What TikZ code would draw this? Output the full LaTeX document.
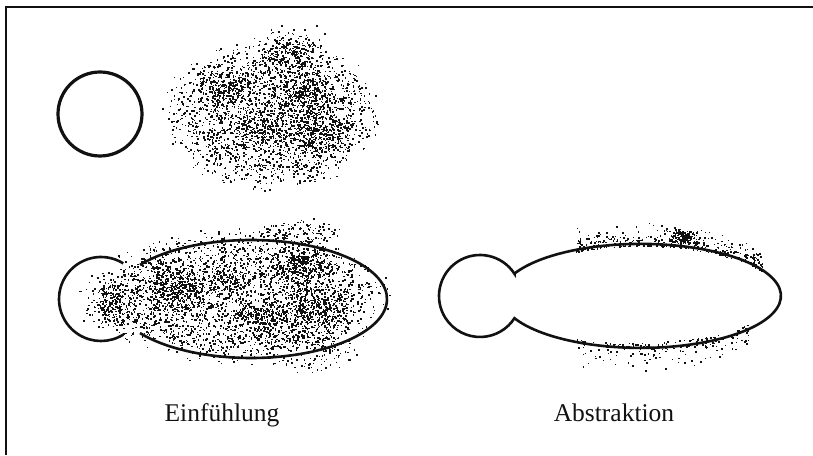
\documentclass[tikz,border=0pt]{standalone}
\usepackage{fontspec}
\setmainfont{Liberation Serif}
\definecolor{inkblack}{HTML}{111111}
\tikzset{
  outline/.style={draw=inkblack, line width=2.6pt},
  frameline/.style={draw=inkblack, line width=2pt},
  speck/.style={fill=inkblack},
  caption/.style={font=\fontsize{25.5}{30}\selectfont, text=inkblack, anchor=base, inner sep=0pt},
}
% soft-edged uniform cloud of dots: cx, cy, rx, ry, count
\newcommand\speckle[5]{%
  \foreach \i in {1,...,#5}{
    \pgfmathsetmacro\sr{sqrt(rnd)*(0.8+0.32*rnd)}
    \pgfmathsetmacro\st{360*rnd}
    \pgfmathsetmacro\sd{1+rnd}
    \fill[speck] ({#1+#3*\sr*cos(\st)},{#2+#4*\sr*sin(\st)}) rectangle ++(\sd,\sd);
  }}
% dense clump of dots, centre-heavy: cx, cy, rx, ry, count
\newcommand\clump[5]{%
  \foreach \i in {1,...,#5}{
    \pgfmathsetmacro\sx{#1+#3*(rand+rand+rand)/2}
    \pgfmathsetmacro\sy{#2+#4*(rand+rand+rand)/2}
    \pgfmathsetmacro\sd{1+rnd}
    \fill[speck] (\sx,\sy) rectangle ++(\sd,\sd);
  }}
% dots hugging an ellipse rim: cx, cy, a, b, from angle, to angle, spread, count
\newcommand\rim[8]{%
  \foreach \i in {1,...,#8}{
    \pgfmathsetmacro\st{#5+(#6-#5)*rnd}
    \pgfmathsetmacro\sd{1+rnd}
    \pgfmathsetmacro\so{#7*(rnd*rnd-0.12)}
    \fill[speck] ({#1+#3*cos(\st)},{#2+#4*sin(\st)+\so}) rectangle ++(\sd,\sd);
  }}
\begin{document}
\begin{tikzpicture}[x=1pt, y=1pt]
  \useasboundingbox (0,0) rectangle (813,455);
  \pgfmathsetseed{4711}
  % cut frame: top and left edges only
  \coordinate (ftl) at (6,448);
  \coordinate (ftr) at (813,448);
  \coordinate (fbl) at (6,0);
  \draw[frameline] (ftr) -- (ftl) -- (fbl);

  % top row: circle and loose cloud
  \draw[outline, line width=3.2pt] (100,341) circle[radius=42pt];
  \speckle{272}{340}{100}{70}{2100}
  \clump{290}{400}{30}{22}{260}
  \clump{227}{362}{28}{22}{240}
  \clump{302}{355}{32}{24}{320}
  \clump{318}{320}{30}{22}{280}
  \clump{262}{326}{30}{20}{220}

  % Einfuehlung: cloud filling circle and ellipse
  \speckle{238}{158}{138}{62}{2500}
  \speckle{305}{105}{50}{22}{180}
  \speckle{300}{222}{40}{12}{110}
  \clump{177}{163}{34}{24}{360}
  \clump{110}{152}{24}{24}{240}
  \clump{300}{188}{30}{26}{320}
  \clump{318}{145}{30}{22}{280}
  \clump{262}{138}{30}{18}{220}
  \clump{225}{172}{20}{16}{120}
  \draw[outline] (101,156) ++(58:42) arc[start angle=58, end angle=302, radius=42pt];
  \draw[outline] (251,156) ++(144.7:136 and 59)
    arc[start angle=144.7, end angle=-144.7, x radius=136pt, y radius=59pt];

  % Abstraktion: dots only along the rim
  \rim{641}{159}{140}{52}{30}{118}{26}{380}
  \clump{682}{218}{14}{6}{140}
  \rim{641}{159}{140}{52}{-118}{-40}{-34}{200}
  \draw[outline] (480,159) ++(32.8:41)
    arc[start angle=32.8, end angle=327.2, radius=41pt]
    arc[start angle=-154.6, end angle=154.6, x radius=140pt, y radius=52pt] -- cycle;

  % captions
  \node[caption] (einf) at (222,34) {Einfühlung};
  \node[caption] (abstr) at (614,34) {Abstraktion};
\end{tikzpicture}
\end{document}
